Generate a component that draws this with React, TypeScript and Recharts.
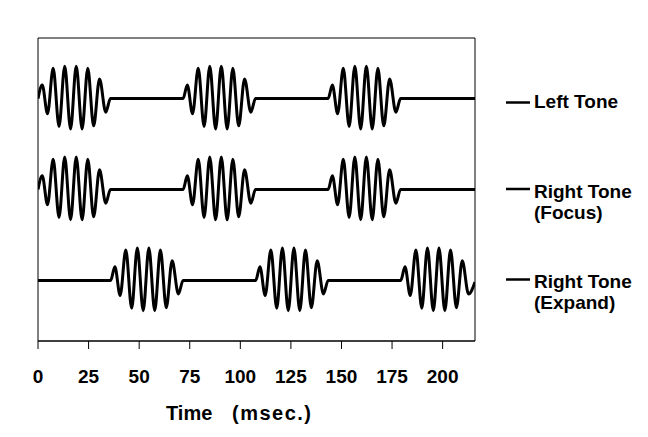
import React from 'react';
import { LineChart, Line, XAxis, YAxis, ReferenceArea } from 'recharts';

// Time (msec.) of each turning point
const leftTimes = [
  0, 2.1, 4.7, 7.5, 10.4, 13.2, 16.1, 18.9, 21.8, 24.6, 27.5, 30.4, 33.5, 35.8,
  71.7, 73.8, 76.4, 79.2, 82.1, 84.9, 87.8, 90.6, 93.5, 96.3, 99.2, 102.1, 105.2, 107.5,
  143.4, 145.5, 148.1, 150.9, 153.8, 156.6, 159.5, 162.3, 165.2, 168.0, 170.9, 173.8, 176.9, 179.2,
  216,
];
const leftValues = [
  8, 8.45, 7.5, 9.0, 7.08, 9.07, 7.0, 9.07, 7.0, 9.0, 7.1, 8.65, 7.55, 8,
  8, 8.45, 7.5, 9.0, 7.08, 9.07, 7.0, 9.07, 7.0, 9.0, 7.1, 8.65, 7.55, 8,
  8, 8.45, 7.5, 9.0, 7.08, 9.07, 7.0, 9.07, 7.0, 9.0, 7.1, 8.65, 7.55, 8,
  8,
];

const focusTimes = [
  0, 2.1, 4.7, 7.5, 10.4, 13.2, 16.1, 18.9, 21.8, 24.6, 27.5, 30.4, 33.5, 35.8,
  71.7, 73.8, 76.4, 79.2, 82.1, 84.9, 87.8, 90.6, 93.5, 96.3, 99.2, 102.1, 105.2, 107.5,
  143.4, 145.5, 148.1, 150.9, 153.8, 156.6, 159.5, 162.3, 165.2, 168.0, 170.9, 173.8, 176.9, 179.2,
  216,
];
const focusValues = [
  5, 5.45, 4.5, 6.0, 4.08, 6.07, 4.0, 6.07, 4.0, 6.0, 4.1, 5.65, 4.55, 5,
  5, 5.45, 4.5, 6.0, 4.08, 6.07, 4.0, 6.07, 4.0, 6.0, 4.1, 5.65, 4.55, 5,
  5, 5.45, 4.5, 6.0, 4.08, 6.07, 4.0, 6.07, 4.0, 6.0, 4.1, 5.65, 4.55, 5,
  5,
];

const expandTimes = [
  0,
  35.9, 38.0, 40.6, 43.4, 46.3, 49.1, 52.0, 54.8, 57.7, 60.5, 63.4, 66.3, 69.4, 71.7,
  107.6, 109.7, 112.3, 115.1, 118.0, 120.8, 123.7, 126.5, 129.4, 132.2, 135.1, 138.0, 141.1, 143.4,
  179.3, 181.4, 184.0, 186.8, 189.7, 192.5, 195.4, 198.2, 201.1, 203.9, 206.8, 209.7, 212.8, 216,
];
const expandValues = [
  2,
  2, 2.45, 1.5, 3.0, 1.08, 3.07, 1.0, 3.07, 1.0, 3.0, 1.1, 2.65, 1.55, 2,
  2, 2.45, 1.5, 3.0, 1.08, 3.07, 1.0, 3.07, 1.0, 3.0, 1.1, 2.65, 1.55, 2,
  2, 2.45, 1.5, 3.0, 1.08, 3.07, 1.0, 3.07, 1.0, 3.0, 1.1, 2.65, 1.55, 1.95,
];

const xTicks = [0, 25, 50, 75, 100, 125, 150, 175, 200];

const legendLabels = [['Left Tone'], ['Right Tone', '(Focus)'], ['Right Tone', '(Expand)']];
const axisTitle = ['Time', '(msec.)'];

const toRows = (t: number[], v: number[]) => t.map((x, i) => ({ t: x, v: v[i] }));

const leftData = toRows(leftTimes, leftValues);
const focusData = toRows(focusTimes, focusValues);
const expandData = toRows(expandTimes, expandValues);

const FONT = '"Liberation Sans", Arial, sans-serif';

export default function App() {
  const legendY = [102.5, 189, 279.5];
  const legendBase = [108, 198, 288];
  return (
    <div style={{ position: 'absolute', left: 0, top: 0, width: 648, height: 437, background: '#fff' }}>
      <LineChart width={648} height={437} margin={{ top: 38, right: 173, left: 38, bottom: 46 }}>
        <XAxis
          type="number"
          dataKey="t"
          domain={[0, 216]}
          ticks={xTicks}
          interval={0}
          allowDataOverflow
          height={50}
          tickSize={8}
          tickMargin={21}
          axisLine={{ stroke: '#000', strokeWidth: 1 }}
          tickLine={{ stroke: '#000', strokeWidth: 1 }}
          tick={{ fill: '#000', fontSize: 19, fontWeight: 'bold', fontFamily: FONT }}
        />
        <YAxis type="number" domain={[0, 10]} hide allowDataOverflow />
        <ReferenceArea x1={0} x2={216} y1={0} y2={10} fill="none" fillOpacity={0} stroke="#000" strokeWidth={1} ifOverflow="visible" />
        <Line data={leftData} dataKey="v" type="monotone" stroke="#000" strokeWidth={3} dot={false} isAnimationActive={false} />
        <Line data={focusData} dataKey="v" type="monotone" stroke="#000" strokeWidth={3} dot={false} isAnimationActive={false} />
        <Line data={expandData} dataKey="v" type="monotone" stroke="#000" strokeWidth={3} dot={false} isAnimationActive={false} />
      </LineChart>
      <svg width={648} height={437} style={{ position: 'absolute', left: 0, top: 0, pointerEvents: 'none' }}>
        {legendLabels.map((lines, i) => (
          <g key={i}>
            <line x1={506} x2={530} y1={legendY[i]} y2={legendY[i]} stroke="#000" strokeWidth={2.5} />
            {lines.map((s, j) => (
              <text key={j} x={534} y={legendBase[i] + j * 20.5} fontFamily={FONT} fontWeight="bold" fontSize={19} fill="#000">
                {s}
              </text>
            ))}
          </g>
        ))}
        <text x={166} y={420} fontFamily={FONT} fontWeight="bold" fontSize={20} fill="#000">{axisTitle[0]}</text>
        <text x={232} y={420} fontFamily={FONT} fontWeight="bold" fontSize={20} letterSpacing={1.5} fill="#000">{axisTitle[1]}</text>
      </svg>
    </div>
  );
}
